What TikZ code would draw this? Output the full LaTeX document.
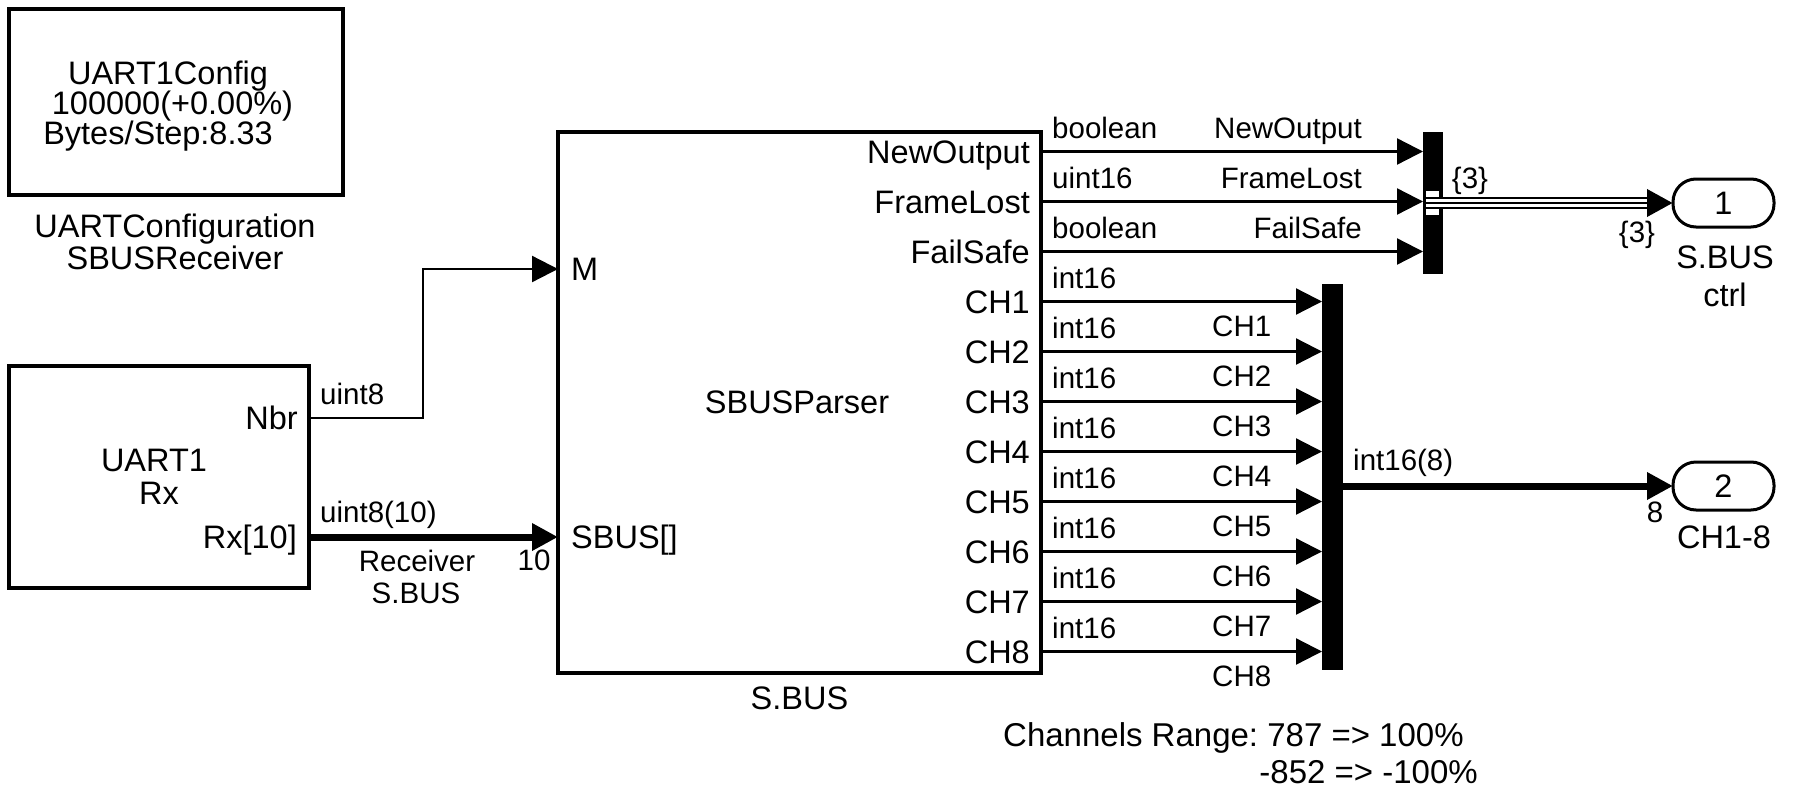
\documentclass[tikz,border=0pt]{standalone}
\usepackage{fontspec}
\setmainfont{Liberation Sans}
\usetikzlibrary{arrows.meta}
\newcommand\blkfont{\fontsize{32.5}{36}\selectfont}
\newcommand\sigfont{\fontsize{29.5}{33}\selectfont}
\frenchspacing
\begin{document}
\begin{tikzpicture}[x=1pt,y=-1pt,
  blk/.style={draw, line width=3.3pt, inner sep=0pt, outer sep=0pt},
  barblk/.style={fill=black, inner sep=0pt, outer sep=0pt},
  outport/.style={draw, line width=3pt, rounded corners=23pt, minimum width=101pt, minimum height=48pt, inner sep=0pt, outer sep=0pt, font=\blkfont, text height=23.3pt, text depth=0pt},
  bt/.style={inner sep=0pt, font=\blkfont, text height=23.3pt, text depth=0pt},
  st/.style={inner sep=0pt, font=\sigfont, text height=21pt, text depth=0pt},
  sig/.style={line width=2.3pt, -{Triangle[length=26pt,width=26pt]}},
  busln/.style={line width=7pt, -{Triangle[length=26pt,width=26pt]}},
]
\useasboundingbox (0,0) rectangle (1799,792);

% ---------- blocks ----------
\node[blk, minimum width=334pt, minimum height=186pt] (cfg) at (176,102) {};
\node[bt] (cfg1) at (168,73) {UART1Config};
\node[bt] (cfg2) at (172.5,103) {100000(+0.00\%)};
\node[bt] (cfg3) at (158,133) {Bytes/Step:8.33};
\node[bt] (cfgl1) at (175,226) {UARTConfiguration};
\node[bt] (cfgl2) at (175,258) {SBUSReceiver};

\node[blk, minimum width=300pt, minimum height=222pt] (rcv) at (159,477) {};
\node[bt] (rcv1) at (154,460) {UART1};
\node[bt] (rcv2) at (159,493) {Rx};
\node[bt, anchor=east] (rcvnbr) at (298,418) {Nbr};
\node[bt, anchor=east] (rcvrx) at (297,537) {Rx[10]};

\node[blk, minimum width=483pt, minimum height=541pt] (parser) at (799.5,402.5) {};
\node[bt] (parsername) at (797,402) {SBUSParser};
\node[bt, anchor=west] (inM) at (571,269) {M};
\node[bt, anchor=west] (inS) at (571,537) {SBUS[]};
\node[bt] (parserlbl) at (799.5,698) {S.BUS};
\foreach \k/\t in {0/NewOutput,1/FrameLost,2/FailSafe,3/CH1,4/CH2,5/CH3,6/CH4,7/CH5,8/CH6,9/CH7,10/CH8}
  \node[bt, anchor=east] (op\k) at (1030,{151.5+50*\k}) {\t};

\node[barblk, minimum width=20pt, minimum height=142pt] (mux1) at (1433,203) {};
\node[barblk, minimum width=21pt, minimum height=386pt] (mux2) at (1332.5,477) {};

\node[outport] (port1) at (1723.5,203) {1};
\node[bt] (port1a) at (1725,257) {S.BUS};
\node[bt] (port1b) at (1725,295) {ctrl};
\node[outport] (port2) at (1723.5,486) {2};
\node[bt] (port2a) at (1724,537) {CH1-8};

% ---------- port coordinates ----------
\coordinate (rNbr) at (309,418);
\coordinate (rRx) at (309,537);
\coordinate (bend) at (423,418);
\coordinate (pM) at (558,269);
\coordinate (pS) at (558,537);
\foreach \k in {0,...,10} \coordinate (o\k) at (1041,{151.5+50*\k});

% ---------- connectors ----------
\draw[sig] (rNbr) -- (bend) |- (pM);
\draw[busln] (rRx) -- (pS);
\foreach \k in {0,1,2} \draw[sig] (o\k) -- (o\k -| mux1.west);
\foreach \k in {3,...,10} \draw[sig] (o\k) -- (o\k -| mux2.west);
\draw[busln] (mux2.east |- port2) -- (port2.west);

% triple-line bus from mux1 to port 1
\fill[white] (1426,191) rectangle (1439,215);
\coordinate (m1out) at (1426,203);
\draw[line width=12.3pt, -{Triangle[length=26pt,width=26pt]}] (m1out) -- (port1.west);
\draw[white, line width=8.6pt, shorten >=26pt] (m1out) -- (port1.west);
\draw[line width=2pt, shorten >=26pt] (m1out) -- (port1.west);

% ---------- signal labels ----------
\node[st, anchor=west] (s1) at (320,394) {uint8};
\node[st, anchor=west] (s2) at (320,512) {uint8(10)};
\node[st] (s3) at (417,561) {Receiver};
\node[st] (s4) at (416,593) {S.BUS};
\node[st] (s5) at (534,560) {10};

\node[st, anchor=west] (t0) at (1052,127.5) {boolean};
\node[st, anchor=east] (n0) at (1362,127.5) {NewOutput};
\node[st, anchor=west] (t1) at (1052,177.5) {uint16};
\node[st, anchor=east] (n1) at (1362,177.5) {FrameLost};
\node[st, anchor=west] (t2) at (1052,227.5) {boolean};
\node[st, anchor=east] (n2) at (1362,227.5) {FailSafe};
\foreach \k in {1,...,8} {
  \node[st, anchor=west] (ti\k) at (1052,{301.5+50*(\k-1)-24}) {int16};
  \node[st, anchor=west] (tc\k) at (1212,{301.5+50*(\k-1)+24}) {CH\k};
}
\node[st] (d1) at (1470,178) {\{3\}};
\node[st] (d2) at (1637,232) {\{3\}};
\node[st, anchor=west] (d3) at (1353,460) {int16(8)};
\node[st] (d4) at (1655,512) {8};

% ---------- annotation ----------
\node[bt, anchor=west, font=\fontsize{33}{36}\selectfont] (ann1) at (1003,735) {Channels Range: 787 => 100\%};
\node[bt, anchor=east, font=\fontsize{33}{36}\selectfont] (ann2) at (1478,772) {-852 => -100\%};
\end{tikzpicture}
\end{document}
